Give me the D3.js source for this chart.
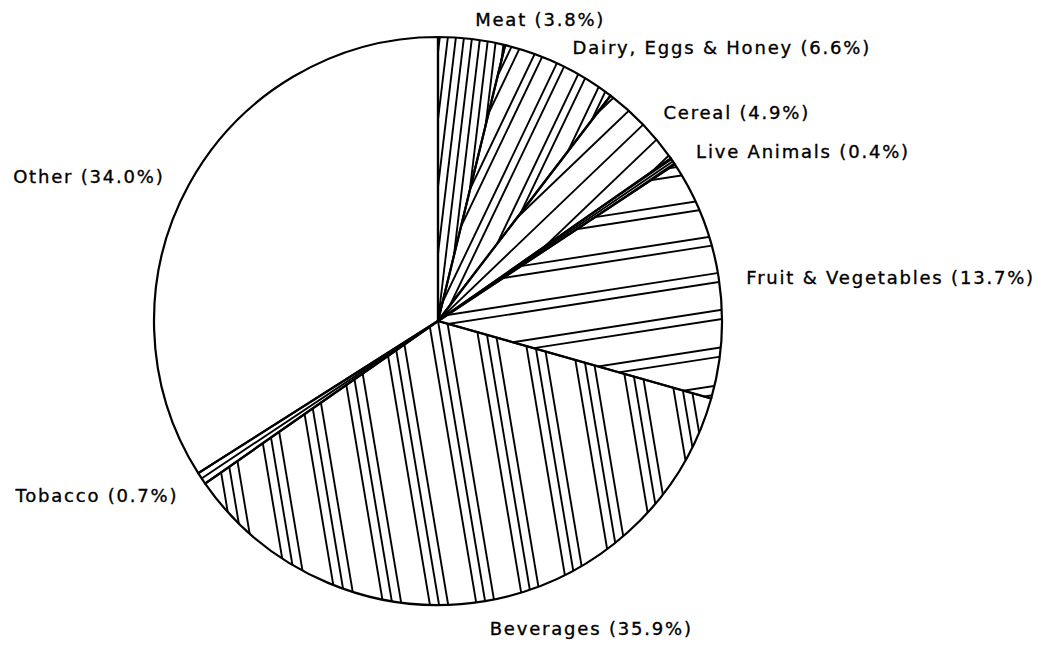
<!DOCTYPE html>
<html>
<head>
<meta charset="utf-8">
<script src="https://cdn.jsdelivr.net/npm/d3@7"></script>
<style>
  body { margin: 0; background: #fff; }
  text { font-family: "DejaVu Sans", sans-serif; font-size: 18px; letter-spacing: 1.8px;
         fill: #000; stroke: #000; stroke-width: 0.35px; }
</style>
</head>
<body>
<div id="chart"></div>
<script>
// categories clockwise from 12 o'clock, shares in percent
const categories = ["Meat", "Dairy, Eggs & Honey", "Cereal", "Live Animals",
                    "Fruit & Vegetables", "Beverages", "Tobacco", "Other"];
const shares = [3.8, 6.6, 4.9, 0.4, 13.7, 35.9, 0.7, 34.0];

// hatch style per slice: lines per group, gap inside a group, group period
const hatchGroup  = [1, 2, 1, 1, 2, 3, 1, 0];
const hatchInner  = [0, 8, 0, 0, 9, 9, 0, 0];
const hatchPeriod = [8, 24, 20, 2.5, 37, 46, 6, 0];

const width = 1051, height = 645;
const cx = 438, cy = 321, radius = 284;

const svg = d3.select('#chart').append('svg')
    .attr('width', width)
    .attr('height', height);

const g = svg.append('g')
    .attr('transform', `translate(${cx},${cy})`);

const pie = d3.pie().sort(null).value(d => d);
const arcs = pie(shares);
const arc = d3.arc().innerRadius(0).outerRadius(radius);
const midAngle = d => (d.startAngle + d.endAngle) / 2;

// clip paths, one per slice
const defs = svg.append('defs');
defs.selectAll('clipPath')
    .data(arcs)
  .enter().append('clipPath')
    .attr('id', (d, i) => `slice-${i}`)
  .append('path')
    .attr('d', arc);

// hatch lines run parallel to each slice's bisector
arcs.forEach((d, i) => {
  const n = hatchGroup[i];
  if (!n) return;
  const mid = midAngle(d);
  const ux = Math.sin(mid), uy = -Math.cos(mid);   // along bisector
  const nx = Math.cos(mid), ny = Math.sin(mid);    // normal
  const period = hatchPeriod[i], inner = hatchInner[i];
  const offsets = [];
  const k = Math.ceil(radius / period) + 1;
  for (let m = -k; m <= k; m++) {
    for (let j = 0; j < n; j++) {
      offsets.push(m * period + (j - (n - 1) / 2) * inner);
    }
  }
  g.append('g')
      .attr('clip-path', `url(#slice-${i})`)
    .selectAll('line')
    .data(offsets)
    .enter().append('line')
      .attr('x1', p => nx * p - ux * radius * 0.3)
      .attr('y1', p => ny * p - uy * radius * 0.3)
      .attr('x2', p => nx * p + ux * radius * 1.2)
      .attr('y2', p => ny * p + uy * radius * 1.2)
      .style('stroke', '#000')
      .style('stroke-width', 1.9);
});

// slice outlines
g.selectAll('.slice')
    .data(arcs)
  .enter().append('path')
    .attr('class', 'slice')
    .attr('d', arc)
    .style('fill', 'none')
    .style('stroke', '#000')
    .style('stroke-width', 2.2)
    .style('stroke-linejoin', 'round');

// labels outside, along the bisector
const labelR = 312;
g.selectAll('.label')
    .data(arcs)
  .enter().append('text')
    .attr('class', 'label')
    .attr('x', d => Math.sin(midAngle(d)) * labelR)
    .attr('y', d => -Math.cos(midAngle(d)) * labelR + 4 + 4 * Math.cos(midAngle(d)))
    .attr('dominant-baseline', 'central')
    .attr('text-anchor', d => Math.sin(midAngle(d)) >= 0 ? 'start' : 'end')
    .text((d, i) => `${categories[i]} (${shares[i].toFixed(1)}%)`);
</script>
</body>
</html>
